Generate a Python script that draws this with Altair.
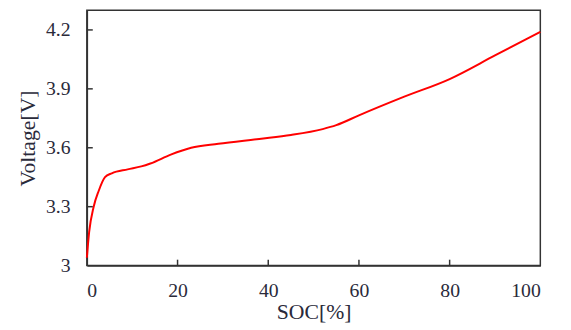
import altair as alt
import pandas as pd

soc = [0, 0.5, 1.5, 2.6, 4, 5.5, 9, 12, 14, 18.5, 23, 29, 38, 45, 52, 55, 60, 70, 80, 90, 100]
volt = [3.04, 3.17, 3.30, 3.38, 3.45, 3.47, 3.49, 3.505, 3.52, 3.565, 3.60, 3.62, 3.645, 3.665, 3.695, 3.715, 3.765, 3.86, 3.95, 4.07, 4.19]
x_ticks = [0, 20, 40, 60, 80, 100]
y_ticks = [3, 3.3, 3.6, 3.9, 4.2]

df = pd.DataFrame({"soc": soc, "v": volt})
xt = pd.DataFrame({"t": x_ticks[1:-1]})
yt = pd.DataFrame({"t": y_ticks[1:]})

FONT = "Liberation Serif"
W, H = 460, 259

xscale = alt.Scale(domain=[0, 100], nice=False)
yscale = alt.Scale(domain=[3, 4.3], nice=False, zero=False)

line = alt.Chart(df).mark_line(color="#ff0000", strokeWidth=2, interpolate="monotone").encode(
    x=alt.X("soc:Q", scale=xscale, title="SOC[%]",
            axis=alt.Axis(values=x_ticks, tickSize=0, labelPadding=15, titlePadding=2,
                          grid=False, domainColor="#333", domainWidth=1.5)),
    y=alt.Y("v:Q", scale=yscale, title="Voltage[V]",
            axis=alt.Axis(values=y_ticks, format=".1~f", tickSize=0, labelPadding=17, titlePadding=6,
                          grid=False, domainColor="#333", domainWidth=1.5)),
)

xtick = alt.Chart(xt).mark_rule(color="#333", strokeWidth=1.5).encode(
    x=alt.X("t:Q", scale=xscale), y=alt.value(H), y2=alt.value(H - 6)
)
ytick = alt.Chart(yt).mark_rule(color="#333", strokeWidth=1.5).encode(
    y=alt.Y("t:Q", scale=yscale), x=alt.value(0), x2=alt.value(6)
)

chart = alt.layer(line, xtick, ytick).properties(
    width=W, height=H,
    background="white",
    autosize=alt.AutoSizeParams(type="none"),
    padding={"left": 80, "top": 0, "right": 23, "bottom": 63},
).configure_view(stroke="#333", strokeWidth=1.5).configure_axis(
    labelFont=FONT, titleFont=FONT, labelFontSize=20, titleFontSize=22,
    labelColor="#2a2a3a", titleColor="#2a2a3a", titleFontWeight="normal",
)

chart.save("out.html", embed_options={"renderer": "svg", "actions": False})
